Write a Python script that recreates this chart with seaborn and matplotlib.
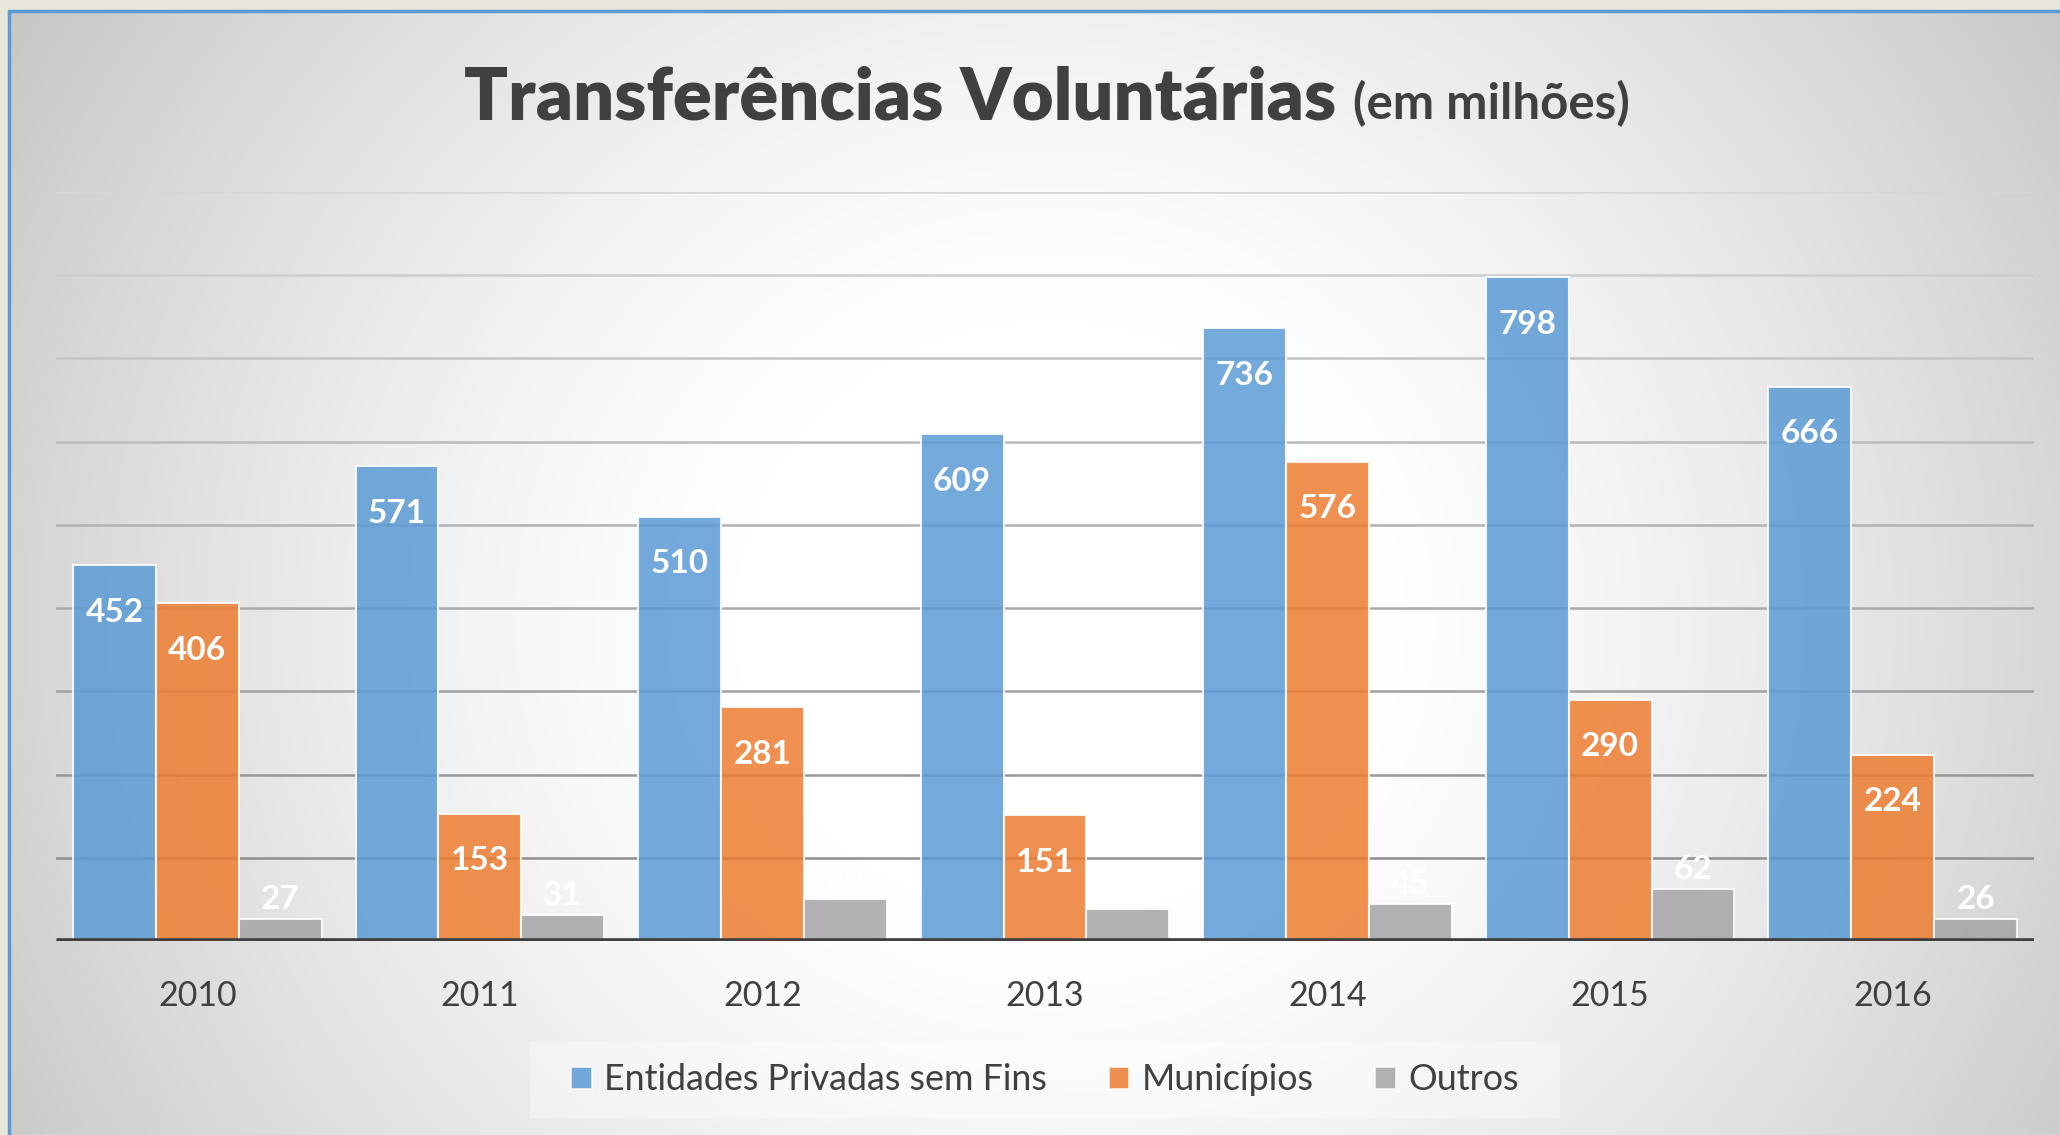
import numpy as np
import pandas as pd
import matplotlib
matplotlib.use("Agg")
import matplotlib.pyplot as plt
import seaborn as sns
from matplotlib.patches import Rectangle

# ---------------- data ----------------
years = ["2010", "2011", "2012", "2013", "2014", "2015", "2016"]
entidades = [452, 571, 510, 609, 736, 798, 666]
municipios = [406, 153, 281, 151, 576, 290, 224]
outros = [27, 31, 50, 38, 45, 62, 26]
series_names = ["Entidades Privadas sem Fins", "Municípios", "Outros"]
colors = ["#5B9BD5", "#ED7D31", "#A5A5A5"]
title_main = "Transferências Voluntárias"
title_sub = "(em milhões)"

df = pd.DataFrame({
    "Ano": years * 3,
    "Série": [s for s in series_names for _ in years],
    "Valor": entidades + municipios + outros,
})

sns.set_theme(style="white")
plt.rcParams["font.family"] = ["Lato", "DejaVu Sans"]

W, H = 2060, 1135
fig = plt.figure(figsize=(W / 100, H / 100), dpi=100)
fig.patch.set_facecolor("#e9e6db")

# ---------------- background panel (radial gradient) ----------------
bg = fig.add_axes([0, 0, 1, 1], zorder=-10)
bg.set_xlim(0, W)
bg.set_ylim(H, 0)
bg.axis("off")
px0, py0 = 8, 10
xs = np.arange(px0, W)
ys = np.arange(py0, H)
XX, YY = np.meshgrid(xs, ys)
cx, cy = 1050, 620
r = np.sqrt(((XX - cx) / 1050.0) ** 2 + ((YY - cy) / 1000.0) ** 2)
d = np.clip((r - 0.3) / 0.7, 0, None)
v = 255 - 43 * d ** 1.3
v = np.clip(v, 0, 255) / 255.0
img = np.dstack([v, v, v])
bg.imshow(img, extent=(px0, W, H, py0), aspect="auto", interpolation="bilinear")
bg.plot([px0, W], [py0 + 1, py0 + 1], color="#5B9BD5", lw=2.5, solid_capstyle="butt")
bg.plot([px0 + 1, px0 + 1], [py0, H], color="#5B9BD5", lw=2.5, solid_capstyle="butt")

# ---------------- main axes ----------------
left, right, base, top = 56, 2034, 941, 192
ax = fig.add_axes([left / W, (H - base) / H, (right - left) / W, (base - top) / H])
ax.patch.set_alpha(0)

sns.barplot(data=df, x="Ano", y="Valor", hue="Série", palette=colors,
            width=0.88, gap=0, saturation=1, alpha=0.85,
            edgecolor=(1, 1, 1, 0.55), linewidth=1.5, errorbar=None,
            legend=False, ax=ax)

ax.set_xlim(-0.5, len(years) - 0.5)
ax.set_ylim(0, 900)
ax.set_yticks(np.arange(0, 901, 100))
ax.set_axisbelow(True)
ax.yaxis.grid(True, lw=1.8)
ax.xaxis.grid(False)
for gl, val in zip(ax.get_ygridlines(), np.arange(0, 901, 100)):
    t = val / 900.0
    c = 0x86 + (0xd6 - 0x86) * t
    gl.set_color((c / 255, c / 255, c / 255))
for s in ax.spines.values():
    s.set_visible(False)
ax.axhline(0, color="#404040", lw=4.8, zorder=5, solid_capstyle="butt")
ax.tick_params(axis="y", left=False, labelleft=False)
ax.tick_params(axis="x", length=0, pad=28, labelsize=24.5, labelcolor="#404040")
ax.set_xlabel("")
ax.set_ylabel("")

# data labels
for i, cont in enumerate(ax.containers):
    for bar in cont:
        val = bar.get_height()
        xc = bar.get_x() + bar.get_width() / 2
        off = -34 if i < 2 else 14
        ax.annotate(f"{val:.0f}", (xc, val), xytext=(0, off), textcoords="offset points",
                    ha="center", va="center", color="white", fontsize=24,
                    fontweight="bold", zorder=6)

# ---------------- title ----------------
t1 = fig.text(0, 1 - 119 / H, title_main, fontsize=52, fontweight="heavy",
              color="#404040", ha="left", va="baseline")
t2 = fig.text(0, 1 - 119 / H, title_sub, fontsize=35.5, fontweight="bold",
              color="#404040", ha="left", va="baseline")
fig.canvas.draw()
rend = fig.canvas.get_renderer()
w1 = t1.get_window_extent(rend).width
w2 = t2.get_window_extent(rend).width
gap = 16
total = w1 + gap + w2
x_start = 1047 - total / 2
t1.set_x(x_start / W)
t2.set_x((x_start + w1 + gap) / W)

# ---------------- legend ----------------
fig.add_artist(Rectangle((530 / W, (H - 1118) / H), 1030 / W, 76 / H,
                         transform=fig.transFigure, facecolor="white",
                         alpha=0.35, edgecolor="none", zorder=1))
handles = [Rectangle((0, 0), 1, 1, facecolor=c, alpha=0.85,
                     edgecolor=(1, 1, 1, 0.55), lw=1.2) for c in colors]
leg = fig.legend(handles, series_names, loc="center",
                 bbox_to_anchor=(1045 / W, 1 - 1080 / H), ncol=3, frameon=False,
                 fontsize=25.8, handlelength=0.57, handleheight=0.57,
                 handletextpad=0.35, columnspacing=1.72, labelcolor="#404040")

fig.savefig("out.png", dpi=100, facecolor=fig.get_facecolor())
